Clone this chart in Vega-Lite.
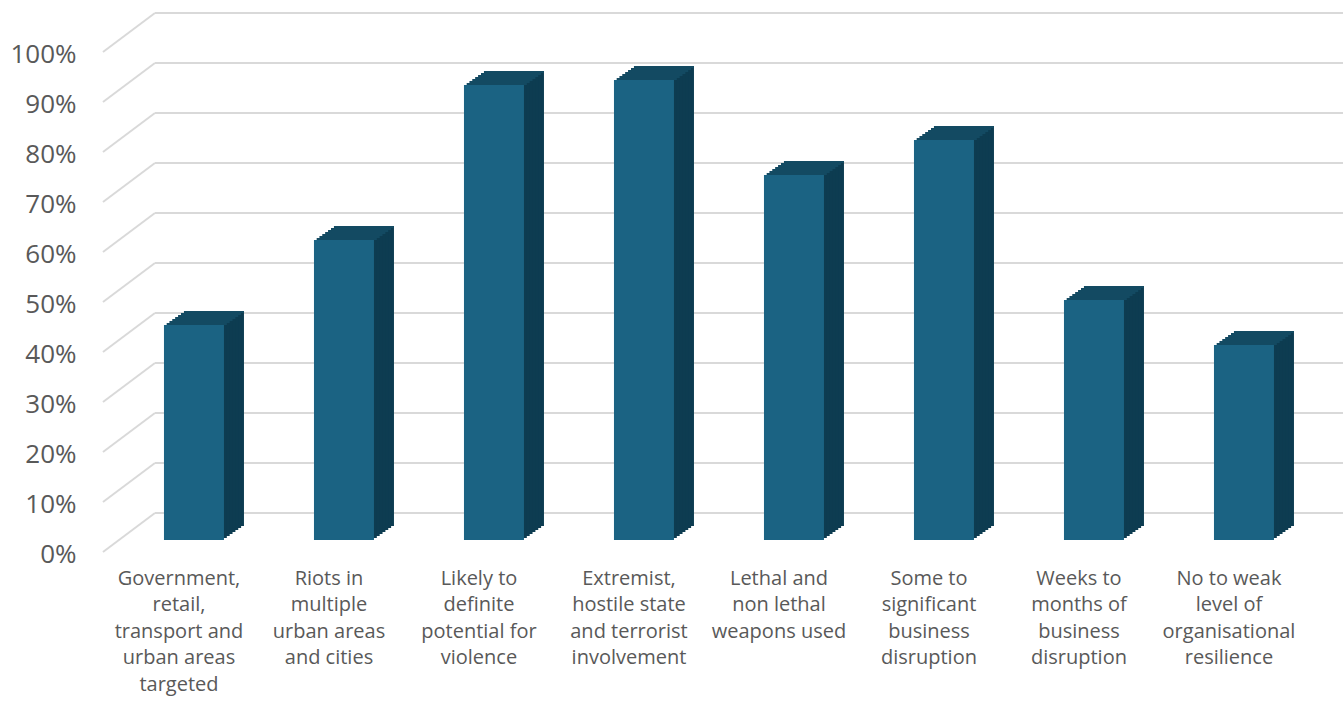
{
  "$schema": "https://vega.github.io/schema/vega-lite/v6.json",
  "width": 1188,
  "height": 500,
  "autosize": {"type": "none"},
  "padding": {"left": 155, "top": 40, "right": 0, "bottom": 161},
  "background": "white",
  "config": {
    "view": {"stroke": null},
    "font": "Open Sans",
    "axisX": {
      "title": null, "domain": false, "ticks": false, "grid": false, "labelAngle": 0,
      "labelExpr": "split(datum.label, '\\n')",
      "labelFontSize": 20, "labelColor": "#595959", "labelLineHeight": 26.5,
      "labelPadding": 28, "labelOffset": -15, "labelLimit": 0, "labelBaseline": "top"
    },
    "axisY": {
      "title": null, "domain": false, "ticks": false, "grid": false, "tickCount": 10,
      "labelExpr": "datum.value + '%'",
      "labelFontSize": 26, "labelColor": "#595959",
      "labelPadding": 79, "labelOffset": 14
    }
  },
  "datasets": {
    "bars": [
      {"category": "Government,\nretail,\ntransport and\nurban areas\ntargeted", "value": 43},
      {"category": "Riots in\nmultiple\nurban areas\nand cities", "value": 60},
      {"category": "Likely to\ndefinite\npotential for\nviolence", "value": 91},
      {"category": "Extremist,\nhostile state\nand terrorist\ninvolvement", "value": 92},
      {"category": "Lethal and\nnon lethal\nweapons used", "value": 73},
      {"category": "Some to\nsignificant\nbusiness\ndisruption", "value": 80},
      {"category": "Weeks to\nmonths of\nbusiness\ndisruption", "value": 48},
      {"category": "No to weak\nlevel of\norganisational\nresilience", "value": 39}
    ],
    "ticks": [
      {"v": 0}, {"v": 10}, {"v": 20}, {"v": 30}, {"v": 40}, {"v": 50},
      {"v": 60}, {"v": 70}, {"v": 80}, {"v": 90}, {"v": 100}
    ]
  },
  "layer": [
    {
      "data": {"name": "ticks"},
      "mark": {"type": "rule", "color": "#d9d9d9", "strokeWidth": 2, "yOffset": -27},
      "encoding": {
        "y": {"field": "v", "type": "quantitative", "title": null, "scale": {"domain": [0, 100], "nice": false}}
      }
    },
    {
      "data": {"name": "ticks"},
      "mark": {"type": "rule", "color": "#d9d9d9", "strokeWidth": 2, "xOffset": -91, "x2Offset": -39, "yOffset": 12, "y2Offset": -27},
      "encoding": {
        "x": {"datum": "Government,\nretail,\ntransport and\nurban areas\ntargeted", "type": "nominal", "title": null},
        "x2": {"datum": "Government,\nretail,\ntransport and\nurban areas\ntargeted"},
        "y": {"field": "v", "type": "quantitative", "title": null},
        "y2": {"field": "v"}
      }
    },
    {"data": {"name": "bars"}, "mark": {"type": "bar", "color": "#0d3c51", "xOffset": 20, "yOffset": -14},
     "encoding": {"x": {"field": "category", "type": "nominal", "title": null}, "y": {"field": "value", "type": "quantitative", "title": null}}},
    {"data": {"name": "bars"}, "mark": {"type": "bar", "color": "#0d3c51", "xOffset": 17.14, "yOffset": -12},
     "encoding": {"x": {"field": "category", "type": "nominal", "title": null}, "y": {"field": "value", "type": "quantitative", "title": null}}},
    {"data": {"name": "bars"}, "mark": {"type": "bar", "color": "#0d3c51", "xOffset": 14.29, "yOffset": -10},
     "encoding": {"x": {"field": "category", "type": "nominal", "title": null}, "y": {"field": "value", "type": "quantitative", "title": null}}},
    {"data": {"name": "bars"}, "mark": {"type": "bar", "color": "#0d3c51", "xOffset": 11.43, "yOffset": -8},
     "encoding": {"x": {"field": "category", "type": "nominal", "title": null}, "y": {"field": "value", "type": "quantitative", "title": null}}},
    {"data": {"name": "bars"}, "mark": {"type": "bar", "color": "#0d3c51", "xOffset": 8.57, "yOffset": -6},
     "encoding": {"x": {"field": "category", "type": "nominal", "title": null}, "y": {"field": "value", "type": "quantitative", "title": null}}},
    {"data": {"name": "bars"}, "mark": {"type": "bar", "color": "#0d3c51", "xOffset": 5.71, "yOffset": -4},
     "encoding": {"x": {"field": "category", "type": "nominal", "title": null}, "y": {"field": "value", "type": "quantitative", "title": null}}},
    {"data": {"name": "bars"}, "mark": {"type": "bar", "color": "#0d3c51", "xOffset": 2.86, "yOffset": -2},
     "encoding": {"x": {"field": "category", "type": "nominal", "title": null}, "y": {"field": "value", "type": "quantitative", "title": null}}},
    {"data": {"name": "bars"}, "mark": {"type": "bar", "color": "#134a62", "xOffset": 20, "yOffset": -14, "y2Offset": -12},
     "encoding": {"x": {"field": "category", "type": "nominal", "title": null}, "y": {"field": "value", "type": "quantitative", "title": null}, "y2": {"field": "value"}}},
    {"data": {"name": "bars"}, "mark": {"type": "bar", "color": "#134a62", "xOffset": 17.14, "yOffset": -12, "y2Offset": -10},
     "encoding": {"x": {"field": "category", "type": "nominal", "title": null}, "y": {"field": "value", "type": "quantitative", "title": null}, "y2": {"field": "value"}}},
    {"data": {"name": "bars"}, "mark": {"type": "bar", "color": "#134a62", "xOffset": 14.29, "yOffset": -10, "y2Offset": -8},
     "encoding": {"x": {"field": "category", "type": "nominal", "title": null}, "y": {"field": "value", "type": "quantitative", "title": null}, "y2": {"field": "value"}}},
    {"data": {"name": "bars"}, "mark": {"type": "bar", "color": "#134a62", "xOffset": 11.43, "yOffset": -8, "y2Offset": -6},
     "encoding": {"x": {"field": "category", "type": "nominal", "title": null}, "y": {"field": "value", "type": "quantitative", "title": null}, "y2": {"field": "value"}}},
    {"data": {"name": "bars"}, "mark": {"type": "bar", "color": "#134a62", "xOffset": 8.57, "yOffset": -6, "y2Offset": -4},
     "encoding": {"x": {"field": "category", "type": "nominal", "title": null}, "y": {"field": "value", "type": "quantitative", "title": null}, "y2": {"field": "value"}}},
    {"data": {"name": "bars"}, "mark": {"type": "bar", "color": "#134a62", "xOffset": 5.71, "yOffset": -4, "y2Offset": -2},
     "encoding": {"x": {"field": "category", "type": "nominal", "title": null}, "y": {"field": "value", "type": "quantitative", "title": null}, "y2": {"field": "value"}}},
    {"data": {"name": "bars"}, "mark": {"type": "bar", "color": "#134a62", "xOffset": 2.86, "yOffset": -2, "y2Offset": 0},
     "encoding": {"x": {"field": "category", "type": "nominal", "title": null}, "y": {"field": "value", "type": "quantitative", "title": null}, "y2": {"field": "value"}}},
    {
      "data": {"name": "bars"},
      "mark": {"type": "bar", "color": "#1b6383"},
      "encoding": {
        "x": {
          "field": "category", "type": "nominal", "title": null,
          "scale": {
            "domain": [
              "Government,\nretail,\ntransport and\nurban areas\ntargeted",
              "Riots in\nmultiple\nurban areas\nand cities",
              "Likely to\ndefinite\npotential for\nviolence",
              "Extremist,\nhostile state\nand terrorist\ninvolvement",
              "Lethal and\nnon lethal\nweapons used",
              "Some to\nsignificant\nbusiness\ndisruption",
              "Weeks to\nmonths of\nbusiness\ndisruption",
              "No to weak\nlevel of\norganisational\nresilience"
            ],
            "paddingInner": 0.6, "paddingOuter": 0.26, "align": 0.115
          }
        },
        "y": {"field": "value", "type": "quantitative", "title": null}
      }
    }
  ]
}
